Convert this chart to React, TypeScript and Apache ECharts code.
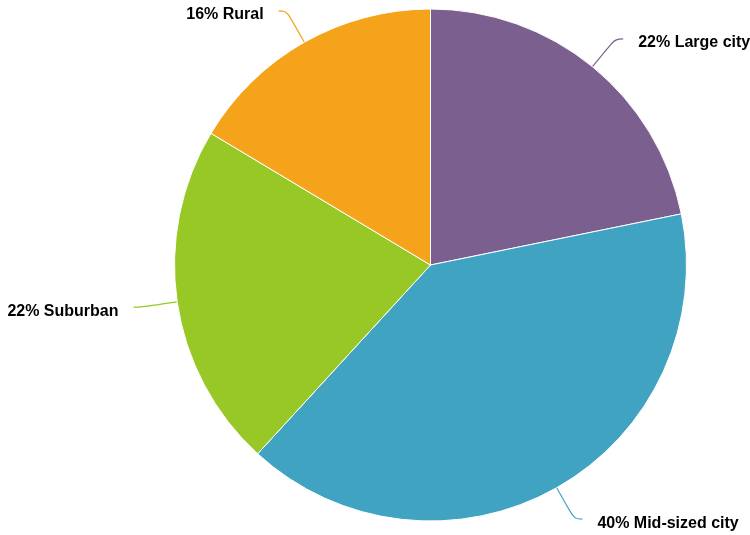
import React, { useEffect, useRef } from "react";
import * as echarts from "echarts";

const categories = ["Large city", "Mid-sized city", "Suburban", "Rural"];
const values = [21.8, 40.0, 21.8, 16.4];
const colors = ["#7b5f8f", "#40a3c2", "#97c826", "#f5a31a"];

export default function App() {
  const ref = useRef<HTMLDivElement>(null);
  useEffect(() => {
    if (!ref.current) return;
    const chart = echarts.init(ref.current, null, { renderer: "svg" });
    chart.setOption({
      animation: false,
      series: [
        {
          type: "pie",
          center: [430.5, 265],
          radius: 256,
          startAngle: 90,
          clockwise: true,
          data: categories.map((c, i) => ({
            name: c,
            value: values[i],
            itemStyle: { color: colors[i] },
          })),
          itemStyle: { borderColor: "#fff", borderWidth: 1 },
          label: {
            show: true,
            formatter: (p: any) => `${Math.round(p.percent)}% ${p.name}`,
            fontFamily: "Liberation Sans, Arial, sans-serif",
            fontWeight: "bold",
            fontSize: 16,
            color: "#000",
            overflow: "none",
            distanceToLabelLine: 15,
          },
          labelLayout: { dy: 3 },
          labelLine: {
            show: true,
            length: 36,
            length2: 8,
            smooth: 0.4,
            lineStyle: { width: 1.2 },
          },
          emphasis: { disabled: true },
        },
      ],
    });
    return () => chart.dispose();
  }, []);
  return (
    <div
      ref={ref}
      style={{ position: "fixed", left: 0, top: 0, width: 750, height: 535 }}
    />
  );
}
